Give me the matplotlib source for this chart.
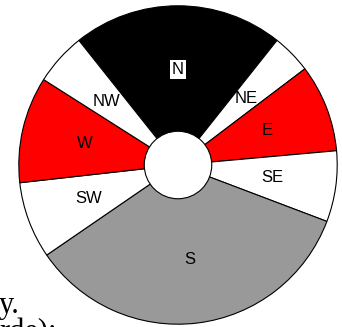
import matplotlib
matplotlib.use('Agg')
import matplotlib.pyplot as plt
from matplotlib.patches import Circle

# wind direction shares, clockwise from N
directions = ['N', 'NE', 'E', 'SE', 'S', 'SW', 'W', 'NW']
shares = [21.4, 4.0, 8.9, 7.2, 34.7, 7.8, 10.8, 5.3]
colours = ['black', 'white', 'red', 'white', '#999999', 'white', 'red', 'white']

W, H = 342, 327
fig = plt.figure(figsize=(W / 100, H / 100), dpi=100)

# pie centre at (178, 165) px from top-left, radius 160 px
cx, cy, r = 178, 165, 160
ax = fig.add_axes([(cx - r) / W, (H - cy - r) / H, 2 * r / W, 2 * r / H])

wedges, texts = ax.pie(shares, labels=directions, colors=colours,
                       startangle=128.5, counterclock=False,
                       labeldistance=0.6, radius=1,
                       wedgeprops=dict(edgecolor='black', linewidth=0.8),
                       textprops=dict(family='Liberation Sans', fontsize=12,
                                      color='black', ha='center', va='center'))
for t in texts:
    if t.get_text() == 'N':
        t.set_bbox(dict(facecolor='white', edgecolor='none', pad=1.2))

ax.add_patch(Circle((0, 0), 0.212, facecolor='white', edgecolor='black',
                    linewidth=0.8, zorder=5))
ax.set_xlim(-1.005, 1.005)
ax.set_ylim(-1.005, 1.005)
ax.set_aspect('auto')
ax.axis('off')

# bits of page text showing behind the chart
fig.text(-1 / W, (H - 313) / H, 'y.', family='Liberation Serif', fontsize=22,
         ha='left', va='baseline')
fig.text(-1 / W, (H - 340) / H, 'rde):', family='Liberation Serif', fontsize=22,
         ha='left', va='baseline')

fig.savefig('out.png', dpi=100)
